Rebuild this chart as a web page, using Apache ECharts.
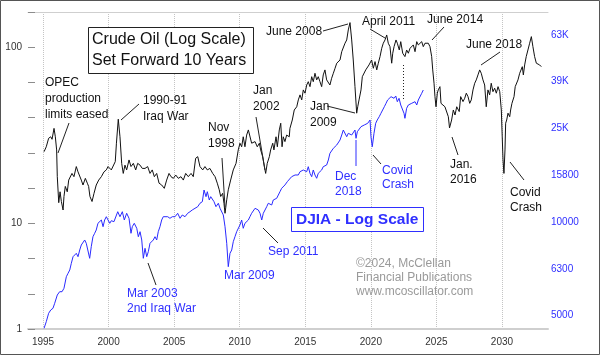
<!DOCTYPE html>
<html><head><meta charset="utf-8">
<script src="https://cdn.jsdelivr.net/npm/echarts@6/dist/echarts.min.js"></script>
<style>html,body{margin:0;padding:0;background:#fff}#c{width:600px;height:355px}</style>
</head><body><div id="c"></div>
<script>
// Crude oil monthly price, plotted 10 years forward: [plotted year, USD per barrel]
const oilForward = [[1995.08,25.5],[1995.25,27.2],[1995.43,30.4],[1995.59,31.0],[1995.69,30.0],[1995.84,34.6],[1995.94,31.0],[1996.04,26.1],[1996.09,18.4],[1996.20,13.1],[1996.30,15.1],[1996.40,13.3],[1996.53,11.9],[1996.60,14.2],[1996.70,16.2],[1996.85,15.1],[1996.96,17.6],[1997.11,17.2],[1997.21,19.2],[1997.36,18.4],[1997.54,21.0],[1997.67,19.6],[1997.80,19.6],[1997.92,17.6],[1998.05,16.5],[1998.23,18.0],[1998.38,16.9],[1998.48,16.2],[1998.58,14.2],[1998.74,13.3],[1998.89,14.8],[1999.06,16.5],[1999.25,17.6],[1999.45,18.4],[1999.65,19.6],[1999.83,20.1],[1999.96,21.0],[2000.09,20.5],[2000.21,20.1],[2000.34,20.1],[2000.51,22.4],[2000.60,28.5],[2000.74,39.0],[2000.87,31.0],[2001.00,21.9],[2001.12,19.2],[2001.25,21.4],[2001.38,20.1],[2001.56,22.9],[2001.71,21.0],[2001.89,21.9],[2002.07,20.1],[2002.22,21.9],[2002.40,21.4],[2002.57,20.5],[2002.78,20.5],[2002.98,21.0],[2003.16,19.2],[2003.33,20.1],[2003.49,18.4],[2003.67,19.2],[2003.85,16.9],[2004.05,16.5],[2004.25,15.8],[2004.43,17.6],[2004.61,19.2],[2004.76,18.4],[2004.94,18.0],[2005.12,18.8],[2005.32,18.0],[2005.52,18.4],[2005.70,17.6],[2005.88,19.2],[2006.08,18.4],[2006.29,19.2],[2006.46,18.4],[2006.64,23.4],[2006.80,23.9],[2006.97,21.0],[2007.18,20.1],[2007.35,21.0],[2007.53,20.1],[2007.73,20.5],[2007.94,19.2],[2008.12,18.4],[2008.29,16.9],[2008.44,15.5],[2008.55,14.2],[2008.70,14.8],[2008.80,13.0],[2008.88,11.4],[2009.01,13.6],[2009.13,15.5],[2009.31,17.6],[2009.51,20.1],[2009.72,21.9],[2009.89,26.1],[2010.02,28.5],[2010.15,27.2],[2010.27,31.0],[2010.40,27.2],[2010.53,31.7],[2010.66,33.9],[2010.78,34.6],[2010.91,28.5],[2011.04,27.9],[2011.17,29.1],[2011.34,27.2],[2011.50,28.5],[2011.60,26.1],[2011.75,23.9],[2011.88,21.0],[2011.98,19.2],[2012.10,21.9],[2012.26,23.9],[2012.36,26.1],[2012.52,28.5],[2012.61,26.1],[2012.77,31.0],[2012.87,27.2],[2013.02,33.9],[2013.13,37.0],[2013.23,27.2],[2013.32,31.0],[2013.45,29.1],[2013.58,31.7],[2013.78,31.0],[2013.83,34.6],[2014.01,38.6],[2014.16,44.0],[2014.35,45.9],[2014.47,50.2],[2014.60,53.6],[2014.73,50.2],[2014.85,57.2],[2014.98,54.8],[2015.11,61.0],[2015.23,63.7],[2015.36,59.7],[2015.49,68.0],[2015.61,63.7],[2015.74,71.1],[2015.87,65.2],[2015.99,68.0],[2016.12,63.7],[2016.25,59.7],[2016.37,69.6],[2016.50,74.3],[2016.63,65.2],[2016.76,63.7],[2016.88,61.0],[2017.01,66.6],[2017.14,71.1],[2017.27,75.9],[2017.40,81.1],[2017.52,79.3],[2017.65,84.6],[2017.78,94.3],[2017.90,96.4],[2018.03,105.3],[2018.16,109.9],[2018.28,125.3],[2018.41,137.9],[2018.54,109.9],[2018.66,84.6],[2018.79,59.7],[2018.92,42.2],[2019.00,45.9],[2019.10,50.2],[2019.25,57.2],[2019.35,68.0],[2019.50,69.6],[2019.61,74.3],[2019.76,72.6],[2019.86,79.3],[2019.94,81.1],[2020.06,84.6],[2020.19,75.9],[2020.32,82.8],[2020.45,74.3],[2020.57,81.1],[2020.70,88.4],[2020.83,98.6],[2020.95,105.3],[2021.08,109.9],[2021.21,117.3],[2021.33,105.3],[2021.46,100.7],[2021.59,81.1],[2021.67,92.4],[2021.77,100.7],[2021.92,109.9],[2022.02,105.3],[2022.17,96.4],[2022.28,107.5],[2022.43,92.4],[2022.60,88.4],[2022.73,96.4],[2022.86,92.4],[2022.99,98.6],[2023.12,96.4],[2023.24,103.0],[2023.37,94.3],[2023.50,107.5],[2023.62,103.0],[2023.75,100.7],[2023.88,107.5],[2024.00,100.7],[2024.13,105.3],[2024.26,107.5],[2024.38,105.3],[2024.51,100.7],[2024.64,88.4],[2024.72,74.3],[2024.82,62.4],[2024.89,52.4],[2024.97,45.9],[2025.07,54.8],[2025.14,57.2],[2025.27,59.7],[2025.35,48.0],[2025.48,49.1],[2025.65,45.9],[2025.78,45.9],[2025.91,40.3],[2026.00,34.8],[2026.16,38.6],[2026.29,44.0],[2026.42,41.2],[2026.55,45.9],[2026.74,43.1],[2026.85,52.4],[2027.03,49.1],[2027.16,51.3],[2027.28,54.8],[2027.41,52.4],[2027.54,48.0],[2027.66,50.2],[2027.79,57.2],[2027.92,62.4],[2028.04,65.2],[2028.17,69.6],[2028.30,74.3],[2028.42,71.1],[2028.55,65.2],[2028.68,61.0],[2028.80,45.9],[2028.93,57.2],[2029.06,53.6],[2029.18,62.4],[2029.31,55.9],[2029.44,58.5],[2029.57,54.8],[2029.70,59.7],[2029.83,55.9],[2029.95,44.0],[2030.02,31.0],[2030.08,22.9],[2030.15,19.2],[2030.23,26.1],[2030.28,37.0],[2030.36,38.6],[2030.46,42.2],[2030.59,40.3],[2030.66,44.0],[2030.76,48.0],[2030.92,52.4],[2031.01,59.7],[2031.12,61.0],[2031.22,65.2],[2031.35,71.1],[2031.47,72.6],[2031.55,77.5],[2031.63,69.6],[2031.73,79.3],[2031.85,88.4],[2031.98,96.4],[2032.11,105.3],[2032.24,114.8],[2032.36,100.7],[2032.49,88.4],[2032.62,81.1],[2032.75,82.8],[2032.87,79.3],[2033.00,77.5]];

// DJIA monthly: [year, index level]
const djia = [[1995.08,3513],[1995.25,3749],[1995.43,4072],[1995.59,4206],[1995.76,4277],[1995.89,4493],[1996.09,4875],[1996.27,5036],[1996.45,5036],[1996.60,5208],[1996.78,5837],[1996.91,6037],[1997.04,6236],[1997.16,6659],[1997.29,7107],[1997.42,6996],[1997.54,7348],[1997.67,7107],[1997.80,7591],[1997.92,7974],[1998.05,8110],[1998.18,8377],[1998.30,8110],[1998.43,8237],[1998.56,6996],[1998.68,7842],[1998.81,8652],[1998.94,8948],[1999.06,9243],[1999.19,9872],[1999.32,9709],[1999.45,10198],[1999.58,9548],[1999.70,10198],[1999.83,10534],[1999.96,10370],[2000.09,9872],[2000.21,10129],[2000.41,10030],[2000.70,11066],[2000.87,10534],[2001.05,11066],[2001.20,10198],[2001.38,10894],[2001.56,10370],[2001.71,8948],[2001.81,9548],[2001.96,9872],[2002.15,9399],[2002.27,8652],[2002.40,9090],[2002.53,8377],[2002.65,6996],[2002.78,7719],[2002.91,7107],[2003.03,7466],[2003.16,8110],[2003.29,8110],[2003.41,8377],[2003.54,8652],[2003.67,8377],[2003.79,9090],[2003.92,9548],[2004.05,10198],[2004.17,10534],[2004.30,10370],[2004.51,10534],[2004.68,10370],[2004.86,10534],[2005.07,10534],[2005.27,10894],[2005.45,10370],[2005.62,10713],[2005.83,10534],[2006.03,10894],[2006.21,11066],[2006.38,11253],[2006.59,11440],[2006.80,11626],[2006.97,12023],[2007.15,12214],[2007.28,13700],[2007.43,12830],[2007.53,13472],[2007.68,12417],[2007.79,12830],[2007.94,13046],[2008.04,12214],[2008.19,11626],[2008.37,12023],[2008.50,11440],[2008.63,11626],[2008.75,10713],[2008.88,9548],[2009.01,8110],[2009.13,6442],[2009.26,7348],[2009.39,7591],[2009.51,8237],[2009.64,8652],[2009.77,9090],[2009.89,9243],[2010.02,9709],[2010.15,10198],[2010.27,9399],[2010.40,9872],[2010.53,9709],[2010.66,10198],[2010.78,10534],[2010.91,10894],[2011.04,11066],[2011.17,11440],[2011.30,11626],[2011.42,11253],[2011.55,10894],[2011.68,10198],[2011.80,10894],[2011.93,11253],[2012.06,11626],[2012.18,12023],[2012.31,12214],[2012.44,11822],[2012.56,12417],[2012.69,12214],[2012.82,12625],[2012.94,12830],[2013.07,13472],[2013.20,13932],[2013.32,14155],[2013.45,14394],[2013.63,14869],[2013.78,15119],[2013.96,15617],[2014.09,15375],[2014.22,15882],[2014.35,16148],[2014.47,15882],[2014.60,16406],[2014.73,16148],[2014.85,16681],[2014.98,16963],[2015.11,16406],[2015.23,17232],[2015.36,16148],[2015.49,15617],[2015.61,16681],[2015.74,15882],[2015.87,15375],[2015.99,16148],[2016.12,16406],[2016.25,16681],[2016.37,17232],[2016.50,17232],[2016.63,17523],[2016.76,18407],[2016.88,19660],[2017.01,19970],[2017.14,20650],[2017.27,20980],[2017.40,21334],[2017.52,21690],[2017.65,22408],[2017.78,23537],[2017.90,24726],[2018.03,24315],[2018.16,23145],[2018.28,23937],[2018.41,24315],[2018.54,23537],[2018.66,23937],[2018.79,24726],[2018.87,22787],[2018.97,24315],[2019.10,24726],[2019.25,25546],[2019.38,25143],[2019.50,25974],[2019.63,25546],[2019.76,26414],[2019.86,26832],[2019.94,27286],[2020.01,23145],[2020.11,20980],[2020.24,23937],[2020.37,26414],[2020.49,27286],[2020.64,28184],[2020.77,29140],[2020.90,30105],[2021.03,31098],[2021.16,32161],[2021.28,33221],[2021.41,33778],[2021.54,34319],[2021.67,34893],[2021.77,33778],[2021.90,34557],[2022.02,32670],[2022.15,33778],[2022.28,31623],[2022.40,31098],[2022.53,29140],[2022.60,27744],[2022.73,30616],[2022.86,31623],[2022.99,31098],[2023.12,32161],[2023.24,31623],[2023.37,32670],[2023.50,31623],[2023.62,33221],[2023.75,33778],[2023.88,35481],[2024.00,36652]];

const xTickYears = [1995, 2000, 2005, 2010, 2015, 2020, 2025, 2030];
// [axis value, label shown]
const oilAxisLabels = [[2.512, '1'], [10, '10'], [100, '100']];
const djiaAxisLabels = [[3981, '5000'], [6310, '6300'], [10000, '10000'], [15849, '15800'], [25119, '25K'], [39811, '39K'], [63096, '63K']];

const FONT = '"Liberation Sans", Arial, sans-serif';
const BLUE = '#2f2fff';

function labelFor(list) {
  return function (v) {
    for (const [val, txt] of list) {
      if (Math.abs(Math.log10(v) - Math.log10(val)) < 0.01) return txt;
    }
    return '';
  };
}

function T(x, y, text, extra) {
  return { type: 'text', x: x, y: y, z: 100,
    style: Object.assign({ text: text, fontSize: 12, fontFamily: FONT, fill: '#111',
      lineHeight: 16, textAlign: 'left', textVerticalAlign: 'top', align: 'left', verticalAlign: 'top' }, extra || {}) };
}
function L(x1, y1, x2, y2, stroke, extra) {
  return { type: 'line', z: 100, shape: { x1: x1, y1: y1, x2: x2, y2: y2 },
    style: Object.assign({ stroke: stroke || '#222', lineWidth: 1 }, extra || {}) };
}

const chart = echarts.init(document.getElementById('c'), null, { renderer: 'canvas' });
const xMin = 1993.856, xMax = 2033.51;
chart.setOption({
  animation: false,
  backgroundColor: '#fff',
  grid: { left: 28, right: 52, top: 12, bottom: 26, containLabel: false },
  xAxis: [{
    type: 'value', min: xMin, max: xMax, position: 'bottom',
    axisLine: { show: true, onZero: false, lineStyle: { color: '#cfcfcf', width: 2 } },
    axisTick: { show: false, customValues: xTickYears },
    axisLabel: { customValues: xTickYears, formatter: function (v) { return String(Math.round(v)); },
      fontSize: 10, fontFamily: FONT, color: '#333', margin: 8 },
    splitLine: { show: true, lineStyle: { color: '#c4c4c4', type: 'dotted', width: 1 } }
  }, {
    type: 'value', min: xMin, max: xMax, position: 'top',
    axisLine: { show: true, onZero: false, lineStyle: { color: '#cfcfcf', width: 1 } },
    axisTick: { show: false }, axisLabel: { show: false }, splitLine: { show: false }
  }],
  yAxis: [{
    type: 'log', logBase: Math.pow(10, 0.2), min: 2.512, max: 158.4, position: 'left',
    axisLine: { show: false, onZero: false },
    axisTick: { show: true, inside: true, length: 7, lineStyle: { color: '#8c8c8c', width: 1 } },
    axisLabel: { formatter: labelFor(oilAxisLabels), fontSize: 10, fontFamily: FONT, color: '#333', margin: 6 },
    splitLine: { show: false }
  }, {
    type: 'log', logBase: Math.pow(10, 0.2), min: 3489, max: 78970, position: 'right',
    axisLine: { show: false, onZero: false },
    axisTick: { show: false },
    axisLabel: { formatter: labelFor(djiaAxisLabels), fontSize: 10, fontFamily: FONT, color: BLUE, margin: 3 },
    splitLine: { show: false }
  }],
  series: [{
    type: 'line', name: 'DJIA', xAxisIndex: 0, yAxisIndex: 1, data: djia,
    symbol: 'none', lineStyle: { color: '#2a2aff', width: 1 }, z: 2
  }, {
    type: 'line', name: 'Crude Oil', xAxisIndex: 0, yAxisIndex: 0, data: oilForward,
    symbol: 'none', lineStyle: { color: '#111', width: 1 }, z: 3
  }],
  graphic: [
    { type: 'rect', z: 90, shape: { x: 0.5, y: 0.5, width: 599, height: 354 }, style: { fill: 'none', stroke: '#555', lineWidth: 1 } },
    { type: 'rect', z: 99, shape: { x: 88.5, y: 27.5, width: 165, height: 46 }, style: { fill: '#fff', stroke: '#222', lineWidth: 1 } },
    T(92, 29.5, 'Crude Oil (Log Scale)\nSet Forward 10 Years', { fontSize: 16, lineHeight: 21 }),
    { type: 'rect', z: 99, shape: { x: 291.5, y: 207.5, width: 132, height: 24 }, style: { fill: '#fff', stroke: BLUE, lineWidth: 1 } },
    T(296, 210.5, 'DJIA - Log Scale', { fontSize: 15.5, fontWeight: 'bold', fill: BLUE, lineHeight: 18 }),
    T(45, 75, 'OPEC\nproduction\nlimits eased'),
    L(69, 123, 58, 153),
    T(143, 93, '1990-91\nIraq War'),
    L(139, 104, 121, 120),
    T(208, 120, 'Nov\n1998'),
    L(222, 158, 225, 207),
    T(253, 82, 'Jan\n2002', { lineHeight: 16.5 }),
    L(256, 117, 265, 170),
    T(266, 24, 'June 2008'),
    L(323, 31, 348, 24),
    T(310, 99, 'Jan\n2009', { lineHeight: 15.5 }),
    L(327, 106, 355, 113),
    T(362, 14, 'April 2011'),
    L(370, 29, 385, 38),
    T(427, 12, 'June 2014'),
    L(444, 27, 432, 40),
    T(466, 37, 'June 2018'),
    L(500, 52, 481, 65),
    T(450, 157, 'Jan.\n2016', { lineHeight: 15 }),
    L(452, 137, 458, 155),
    T(510, 185, 'Covid\nCrash', { lineHeight: 15 }),
    L(510, 162, 524, 180),
    T(335, 169, 'Dec\n2018', { fill: BLUE, lineHeight: 15 }),
    L(356, 140, 356, 166, BLUE),
    T(382, 163, 'Covid\nCrash', { fill: BLUE, lineHeight: 14.5 }),
    L(373, 155, 381, 164),
    T(268, 244, 'Sep 2011', { fill: BLUE }),
    L(263, 228, 278, 243),
    T(224, 268, 'Mar 2009', { fill: BLUE }),
    T(127, 286, 'Mar 2003\n2nd Iraq War', { fill: BLUE, lineHeight: 15 }),
    L(148, 263, 156, 285),
    L(403.5, 65, 403.5, 100, '#222', { lineDash: [1, 2] }),
    T(356, 257, '\u00A92024, McClellan\nFinancial Publications\nwww.mcoscillator.com', { fill: '#9a9a9a', lineHeight: 14 })
  ]
});
</script>
</body></html>
